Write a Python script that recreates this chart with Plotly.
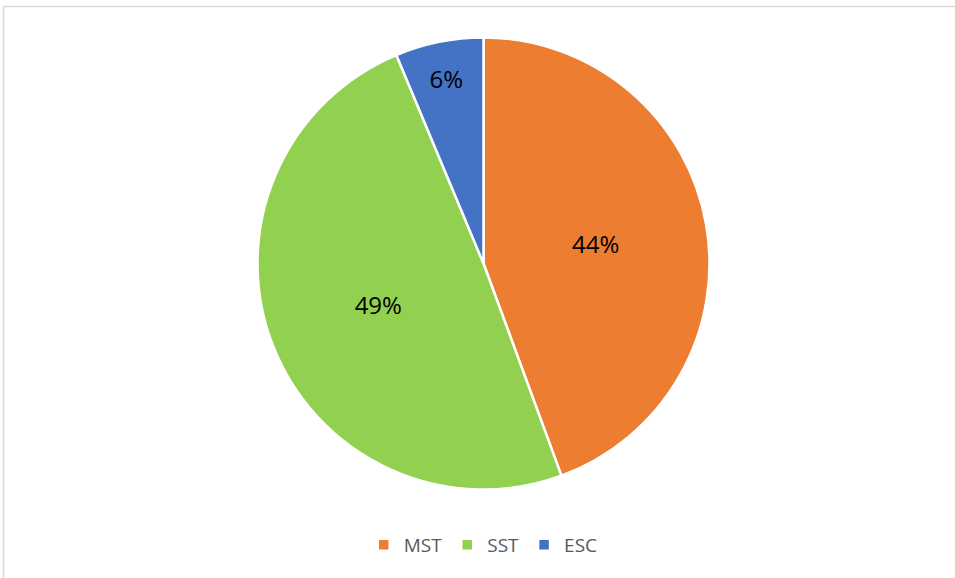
import plotly.graph_objects as go

# Share of each category
categories = ["MST", "SST", "ESC"]
values = [44.4, 49.3, 6.3]
colors = ["#ED7D31", "#92D050", "#4472C4"]

W, H = 955, 578
cx, cy, r = 483.5, 263.5, 226.0

fig = go.Figure(
    go.Pie(
        labels=categories,
        values=values,
        sort=False,
        direction="clockwise",
        rotation=0,
        marker=dict(colors=colors, line=dict(color="white", width=2.5)),
        texttemplate="%{percent:.0%}",
        textposition="inside",
        insidetextorientation="horizontal",
        textfont=dict(family="Open Sans, Liberation Sans, Arial, sans-serif", size=24, color="#000000"),
        domain=dict(
            x=[(cx - r) / W, (cx + r) / W],
            y=[1 - (cy + r) / H, 1 - (cy - r) / H],
        ),
        hoverinfo="label+percent",
    )
)

fig.update_layout(
    width=W,
    height=H,
    margin=dict(l=0, r=0, t=0, b=0),
    paper_bgcolor="white",
    showlegend=True,
    legend=dict(
        orientation="h",
        x=0.506,
        xanchor="center",
        y=1 - 545 / H,
        yanchor="middle",
        font=dict(family="Open Sans, Liberation Sans, Arial, sans-serif", size=19, color="#595959"),
        itemwidth=30,
        traceorder="normal",
    ),
    shapes=[
        dict(
            type="rect",
            xref="paper",
            yref="paper",
            x0=3.5 / W,
            x1=1.05,
            y0=-0.05,
            y1=1 - 6.5 / H,
            line=dict(color="#D9D9D9", width=1.5),
            fillcolor="rgba(0,0,0,0)",
        )
    ],
)

fig.write_html("out.html")
